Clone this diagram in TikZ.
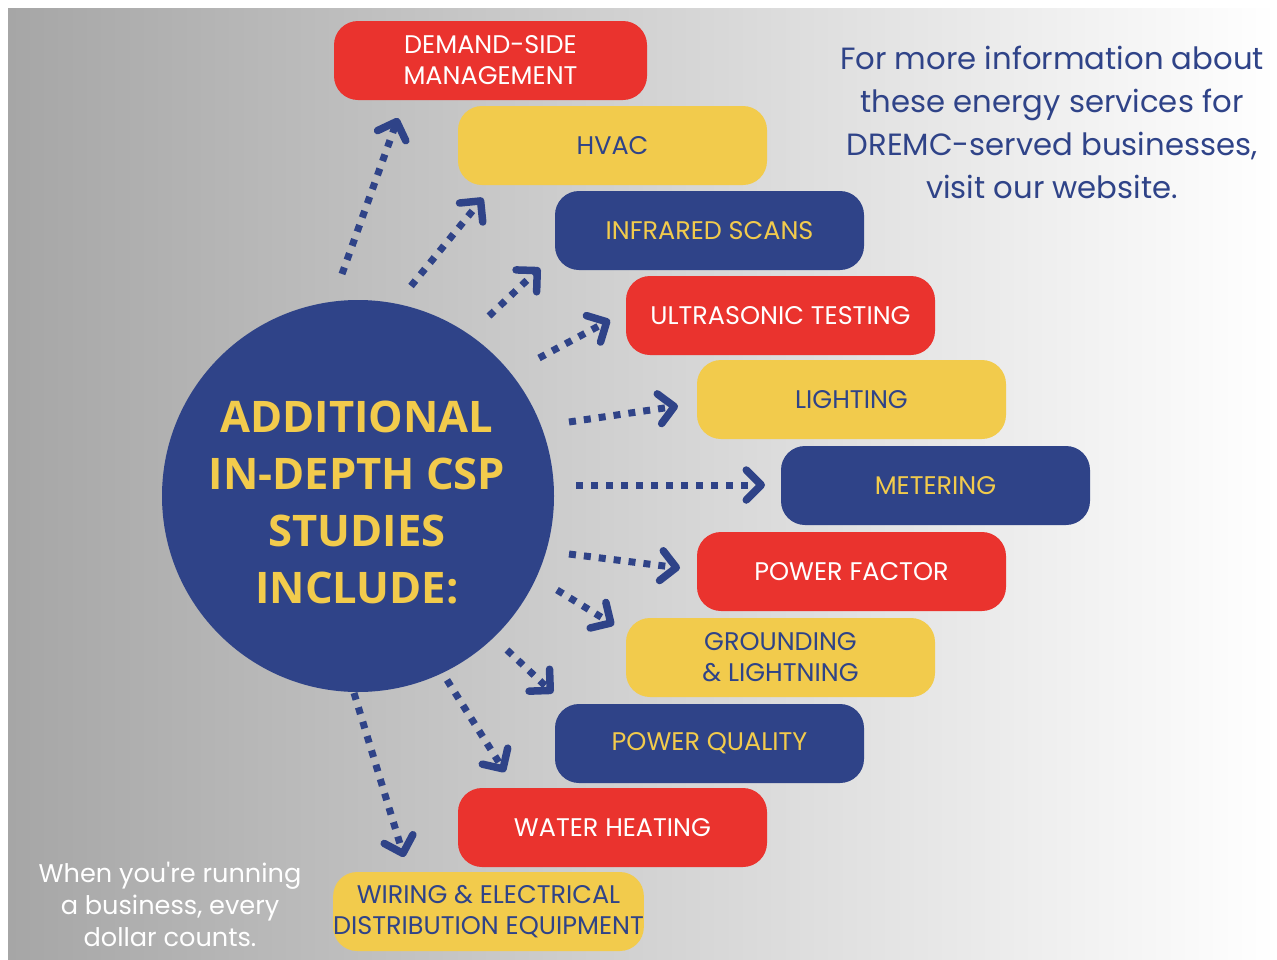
\documentclass[tikz,border=0pt]{standalone}
\usepackage{fontspec}
\setmainfont{Poppins}
\newfontfamily\headfont{Open Sans}
\newfontfamily\mottofont{Poppins}
\usetikzlibrary{arrows.meta}
\definecolor{dblue}{RGB}{47,67,136}
\definecolor{dyellow}{RGB}{242,203,76}
\definecolor{dred}{RGB}{234,51,46}
\definecolor{bgleft}{RGB}{166,166,166}
\tikzset{
	study/.style={rounded corners=24pt,minimum width=309pt,minimum height=79pt,inner sep=0pt,align=center,font=\fontsize{25.5}{31}\selectfont},
	redbox/.style={study,fill=dred,text=white},
	ylwbox/.style={study,fill=dyellow,text=dblue},
	bluebox/.style={study,fill=dblue,text=dyellow},
	flow/.style={draw=dblue,line width=7pt,dash pattern=on 7pt off 8pt,-{Straight Barb[length=15pt,width=30pt,line width=7.5pt,round]}}
}
\begin{document}
\begin{tikzpicture}[x=1pt,y=-1pt]
	\useasboundingbox (0,0) rectangle (1277,959);
	\shade[left color=bgleft,right color=white] (8,8) rectangle (1277,959);
	\node[circle,fill=dblue,minimum size=392pt,inner sep=0pt] (hub) at (358,496) {};
	\node[text=dyellow,align=center,font=\headfont\bfseries\fontsize{43.5}{57}\selectfont] (title) at (357,503) {ADDITIONAL\\IN-DEPTH CSP\\STUDIES\\INCLUDE:};
	\node[redbox,minimum width=313pt] (dsm) at (490.5,60.5) {DEMAND-SIDE\\MANAGEMENT};
	\node[ylwbox] (hvac) at (612.5,145.5) {HVAC};
	\node[bluebox] (scan) at (709.5,230.5) {INFRARED SCANS};
	\node[redbox] (sonic) at (780.5,315.5) {ULTRASONIC TESTING};
	\node[ylwbox] (light) at (851.5,399.5) {LIGHTING};
	\node[bluebox] (meter) at (935.5,485.5) {METERING};
	\node[redbox] (pf) at (851.5,571.5) {POWER FACTOR};
	\node[ylwbox] (ground) at (780.5,657.5) {GROUNDING\\\& LIGHTNING};
	\node[bluebox] (pq) at (709.5,743.5) {POWER QUALITY};
	\node[redbox] (water) at (612.5,827.5) {WATER HEATING};
	\node[ylwbox] (wiring) at (488.5,911.5) {WIRING \& ELECTRICAL\\DISTRIBUTION EQUIPMENT};
	\node[text=dblue,align=center,font=\fontsize{30.7}{43}\selectfont] (info) at (1052,122) {For more information about\\these energy services for\\DREMC-served businesses,\\visit our website.};
	\node[text=white,align=center,font=\mottofont\fontsize{25.6}{32}\selectfont] (motto) at (170,904) {When you're running\\a business, every\\dollar counts.};
	\foreach \n/\sx/\sy/\tx/\ty in {1/342/274/398/118, 2/411/286/483/198, 3/489/316/540/268, 4/539/358/610/320,
		5/569/422/678/406, 6/576/485/765/485, 7/569/554/680/568, 8/557/590/614/625,
		9/507/650/553/693, 10/447/680/505/772, 11/354/693/404/857}{
		\coordinate (s\n) at (\sx,\sy);
		\coordinate (t\n) at (\tx,\ty);
		\draw[flow] (s\n) -- (t\n);
	}
\end{tikzpicture}
\end{document}
